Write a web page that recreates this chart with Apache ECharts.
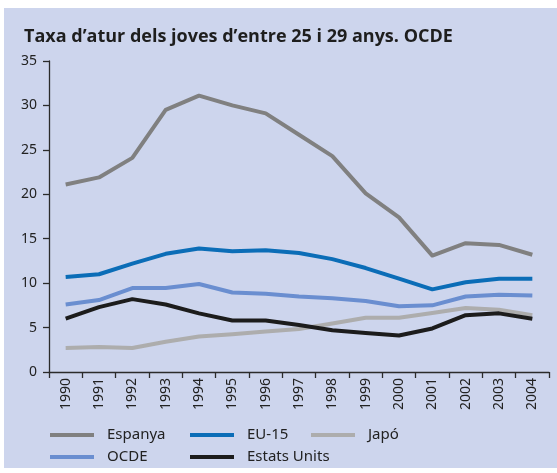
<!doctype html>
<html lang="ca">
  <head>
    <meta charset="UTF-8" />
    <title>Taxa d'atur dels joves d'entre 25 i 29 anys. OCDE</title>
    <script src="https://cdn.jsdelivr.net/npm/echarts@6/dist/echarts.min.js"></script>
    <style>
      html, body { margin: 0; padding: 0; background: #fff; }
      #main { width: 557px; height: 473px; }
    </style>
  </head>
  <body>
    <div id="main"></div>
    <script>
      // anys (eix x)
      const years = ["1990", "1991", "1992", "1993", "1994", "1995", "1996", "1997",
        "1998", "1999", "2000", "2001", "2002", "2003", "2004"];

      // taxes d'atur (%), llegides del gràfic
      const espanya = [21.1, 21.9, 24.1, 29.5, 31.1, 30.0, 29.1, 26.7, 24.3, 20.1, 17.4, 13.1, 14.5, 14.3, 13.2];
      const eu15 = [10.7, 11.0, 12.2, 13.3, 13.9, 13.6, 13.7, 13.4, 12.7, 11.7, 10.5, 9.3, 10.1, 10.5, 10.5];
      const japo = [2.7, 2.8, 2.7, 3.4, 4.0, 4.25, 4.55, 4.85, 5.45, 6.1, 6.1, 6.65, 7.2, 7.0, 6.4];
      const ocde = [7.6, 8.1, 9.45, 9.45, 9.9, 8.95, 8.8, 8.5, 8.3, 8.0, 7.4, 7.5, 8.5, 8.7, 8.6];
      const estatsUnits = [6.0, 7.3, 8.2, 7.6, 6.6, 5.8, 5.8, 5.3, 4.7, 4.4, 4.1, 4.9, 6.4, 6.6, 6.0];

      const chart = echarts.init(document.getElementById("main"));

      const font = "Noto Sans";
      const axisColor = "#2b2b2b";

      function lineSeries(name, data, color) {
        return {
          name: name,
          type: "line",
          data: data,
          symbol: "none",
          lineStyle: { color: color, width: 4, join: "round" },
          itemStyle: { color: color },
        };
      }

      // una llegenda per columna
      function legendCol(left, names) {
        return {
          left: left,
          top: 427,
          padding: 0,
          orient: "vertical",
          data: names.map((n) => ({ name: n, icon: "rect" })),
          itemWidth: 44,
          itemHeight: 4,
          itemGap: 6,
          textStyle: {
            fontFamily: font,
            fontSize: 15,
            color: "#222",
            lineHeight: 16,
            padding: [0, 0, 0, 8],
          },
        };
      }

      const option = {
        animation: false,
        graphic: [
          {
            type: "rect",
            left: 4,
            top: 8,
            shape: { width: 553, height: 460 },
            style: { fill: "#cdd5ed" },
            z: -10,
          },
        ],
        title: {
          text: "Taxa d’atur dels joves d’entre 25 i 29 anys. OCDE",
          left: 19,
          top: 23,
          textStyle: {
            fontFamily: "Open Sans",
            fontWeight: "bold",
            fontSize: 18,
            color: "#1e1e1e",
          },
        },
        legend: [
          legendCol(50, ["Espanya", "OCDE"]),
          legendCol(190, ["EU-15", "Estats Units"]),
          legendCol(311, ["Japó"]),
        ],
        grid: { left: 49, top: 61, width: 500, height: 311 },
        xAxis: {
          type: "category",
          data: years,
          boundaryGap: true,
          axisLine: { lineStyle: { color: axisColor, width: 1.3 } },
          axisTick: { show: true, interval: 0, length: 6, lineStyle: { color: axisColor, width: 1.3 } },
          axisLabel: {
            interval: 0,
            rotate: 90,
            margin: 6,
            fontFamily: font,
            fontSize: 14,
            color: "#222",
          },
          splitLine: { show: false },
        },
        yAxis: {
          type: "value",
          min: 0,
          max: 35,
          interval: 5,
          axisLine: { show: true, lineStyle: { color: axisColor, width: 1.3 } },
          axisTick: { show: true, length: 6, lineStyle: { color: axisColor, width: 1.3 } },
          axisLabel: { margin: 12, fontFamily: font, fontSize: 14, color: "#222" },
          splitLine: { show: false },
        },
        series: [
          lineSeries("Espanya", espanya, "#808080"),
          lineSeries("EU-15", eu15, "#0b6db7"),
          lineSeries("Japó", japo, "#adadad"),
          lineSeries("OCDE", ocde, "#6a8ed0"),
          lineSeries("Estats Units", estatsUnits, "#1c1c1c"),
        ],
      };

      chart.setOption(option);
    </script>
  </body>
</html>
